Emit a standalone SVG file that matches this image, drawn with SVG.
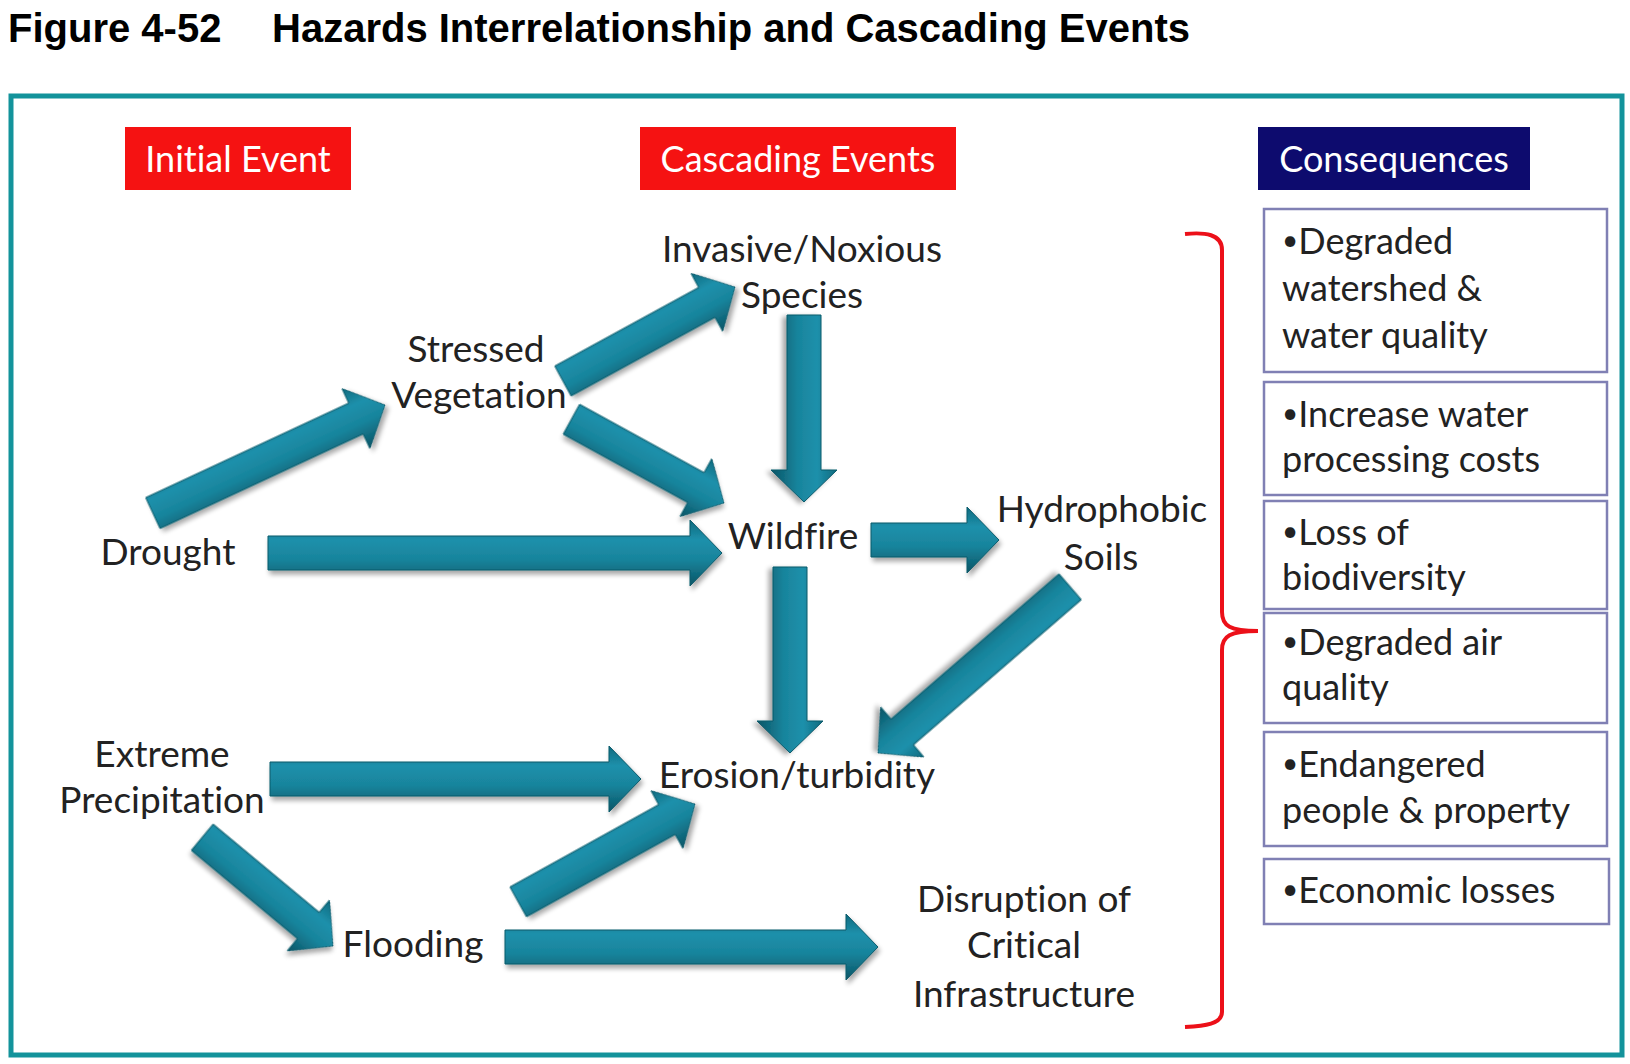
<svg xmlns="http://www.w3.org/2000/svg" width="1630" height="1064" viewBox="0 0 1630 1064">
<defs>
<linearGradient id="ag" x1="0" y1="0" x2="0" y2="1">
<stop offset="0" stop-color="#0e6a7e"/>
<stop offset="0.3" stop-color="#1e90ab"/>
<stop offset="0.6" stop-color="#18849c"/>
<stop offset="1" stop-color="#0a5566"/>
</linearGradient>
<filter id="sh" x="-10%" y="-10%" width="130%" height="140%">
<feGaussianBlur in="SourceAlpha" stdDeviation="2.5"/>
<feOffset dx="2" dy="4" result="b"/>
<feComponentTransfer><feFuncA type="linear" slope="0.35"/></feComponentTransfer>
<feMerge><feMergeNode/><feMergeNode in="SourceGraphic"/></feMerge>
</filter>
</defs>
<style>
text{font-variant-ligatures:none}
.title{font-family:"Liberation Sans",Arial,sans-serif;font-weight:bold;font-size:40px;fill:#000}
.hdr{font-family:Lato,"Liberation Sans",sans-serif;font-size:36px;fill:#fff;text-anchor:middle}
.lbl{font-family:Lato,"Liberation Sans",sans-serif;font-size:37px;fill:#222;text-anchor:middle}
.con{font-family:Lato,"Liberation Sans",sans-serif;font-size:36px;fill:#222}
.bul{font-size:28px}
.box{fill:#fff;stroke:#8080b4;stroke-width:2.5}
.arr{fill:url(#ag);stroke:#0b5a6b;stroke-width:1;filter:url(#sh)}
</style>
<rect width="1630" height="1064" fill="#fff"/>
<text class="title" x="8" y="42">Figure 4-52</text>
<text class="title" x="272" y="42">Hazards Interrelationship and Cascading Events</text>
<rect x="11" y="96" width="1611" height="959" fill="#fff" stroke="#13939b" stroke-width="5"/>

<g id="hdr-initial"><rect x="125" y="127" width="226" height="63" fill="#f51212"/><text class="hdr" x="238" y="172">Initial Event</text></g>
<g id="hdr-cascading"><rect x="640" y="127" width="316" height="63" fill="#f51212"/><text class="hdr" x="798" y="172">Cascading Events</text></g>
<g id="hdr-consequences"><rect x="1258" y="127" width="272" height="63" fill="#0d0b6e"/><text class="hdr" x="1394" y="172">Consequences</text></g>

<g id="connectors">
<path class="arr" transform="translate(385,405) rotate(-24.96)" d="M-256,-17 H-32 V-33 L0,0 L-32,33 V17 H-256 Z"/>
<path class="arr" transform="translate(735,287) rotate(-28.65)" d="M-196,-17 H-32 V-33 L0,0 L-32,33 V17 H-196 Z"/>
<path class="arr" transform="translate(724,503) rotate(28.77)" d="M-174,-17 H-32 V-33 L0,0 L-32,33 V17 H-174 Z"/>
<path class="arr" transform="translate(804,502) rotate(90)" d="M-187,-17 H-32 V-33 L0,0 L-32,33 V17 H-187 Z"/>
<path class="arr" transform="translate(722,553)" d="M-454,-17 H-32 V-33 L0,0 L-32,33 V17 H-454 Z"/>
<path class="arr" transform="translate(999,540)" d="M-128,-17 H-32 V-33 L0,0 L-32,33 V17 H-128 Z"/>
<path class="arr" transform="translate(790,753) rotate(90)" d="M-186,-17 H-32 V-33 L0,0 L-32,33 V17 H-186 Z"/>
<path class="arr" transform="translate(878,753) rotate(139.15)" d="M-254,-17 H-32 V-33 L0,0 L-32,33 V17 H-254 Z"/>
<path class="arr" transform="translate(641,779)" d="M-371,-17 H-32 V-33 L0,0 L-32,33 V17 H-371 Z"/>
<path class="arr" transform="translate(333,946) rotate(39.76)" d="M-170,-17 H-32 V-33 L0,0 L-32,33 V17 H-170 Z"/>
<path class="arr" transform="translate(695,804) rotate(-28.97)" d="M-202,-17 H-32 V-33 L0,0 L-32,33 V17 H-202 Z"/>
<path class="arr" transform="translate(878,947)" d="M-373,-17 H-32 V-33 L0,0 L-32,33 V17 H-373 Z"/>
<path d="M1185,234 C1205,232 1222,234 1222,250 L1222,612 C1222,626 1230,631 1258,631 C1230,631 1222,636 1222,650 L1222,1012 C1222,1024 1205,1026 1185,1027" fill="none" stroke="#ec1019" stroke-width="4"/>
</g>

<g id="n-invasive"><text class="lbl" x="802" y="262">Invasive/Noxious</text><text class="lbl" x="802" y="308">Species</text></g>
<g id="n-stressed"><text class="lbl" x="476" y="362">Stressed</text><text class="lbl" x="479" y="408">Vegetation</text></g>
<g id="n-drought"><text class="lbl" x="168" y="565">Drought</text></g>
<g id="n-wildfire"><text class="lbl" x="793" y="549">Wildfire</text></g>
<g id="n-hydrophobic"><text class="lbl" x="1102" y="522">Hydrophobic</text><text class="lbl" x="1101" y="570">Soils</text></g>
<g id="n-extreme"><text class="lbl" x="162" y="767">Extreme</text><text class="lbl" x="162" y="813">Precipitation</text></g>
<g id="n-erosion"><text class="lbl" x="797" y="788">Erosion/turbidity</text></g>
<g id="n-flooding"><text class="lbl" x="413" y="957">Flooding</text></g>
<g id="n-disruption"><text class="lbl" x="1024" y="912">Disruption of</text><text class="lbl" x="1024" y="958">Critical</text><text class="lbl" x="1024" y="1007">Infrastructure</text></g>

<g id="c-watershed"><rect class="box" x="1264" y="209" width="343" height="163"/><text class="con" x="1282" y="254"><tspan class="bul" dy="-4">•</tspan><tspan dy="4">Degraded</tspan></text><text class="con" x="1282" y="301">watershed &amp;</text><text class="con" x="1282" y="348">water quality</text></g>
<g id="c-costs"><rect class="box" x="1264" y="382" width="343" height="113"/><text class="con" x="1282" y="427"><tspan class="bul" dy="-4">•</tspan><tspan dy="4">Increase water</tspan></text><text class="con" x="1282" y="472">processing costs</text></g>
<g id="c-biodiversity"><rect class="box" x="1264" y="501" width="343" height="108"/><text class="con" x="1282" y="545"><tspan class="bul" dy="-4">•</tspan><tspan dy="4">Loss of</tspan></text><text class="con" x="1282" y="590">biodiversity</text></g>
<g id="c-air"><rect class="box" x="1264" y="613" width="343" height="110"/><text class="con" x="1282" y="655"><tspan class="bul" dy="-4">•</tspan><tspan dy="4">Degraded air</tspan></text><text class="con" x="1282" y="700">quality</text></g>
<g id="c-people"><rect class="box" x="1264" y="732" width="343" height="114"/><text class="con" x="1282" y="777"><tspan class="bul" dy="-4">•</tspan><tspan dy="4">Endangered</tspan></text><text class="con" x="1282" y="823">people &amp; property</text></g>
<g id="c-economic"><rect class="box" x="1264" y="859" width="345" height="65"/><text class="con" x="1282" y="903"><tspan class="bul" dy="-4">•</tspan><tspan dy="4">Economic losses</tspan></text></g>
</svg>
